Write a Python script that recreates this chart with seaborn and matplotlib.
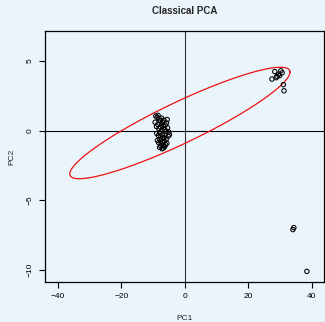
import numpy as np
import pandas as pd
import matplotlib
matplotlib.use("Agg")
import matplotlib.pyplot as plt
import seaborn as sns

# ---- data ----
pc1_main = [-9.2, -8.8, -8.5, -8.1, -7.8, -7.4, -7.0, -6.6, -6.2, -5.8,
            -9.0, -8.6, -8.2, -7.7, -7.3, -6.9, -6.4, -6.0, -5.5, -5.1,
            -8.9, -8.4, -8.0, -7.6, -7.1, -6.7, -6.3, -5.9, -5.3,
            -8.7, -8.3, -7.9, -7.5, -7.2, -6.8, -6.5, -6.1, -5.7,
            -8.0, -7.6, -7.2, -6.8, -6.4, -7.4, -6.9, -5.6, -9.4, -4.9]
pc2_main = [1.05, 0.95, 1.1, 0.85, 0.7, 0.9, 0.6, 0.75, 0.4, 0.55,
            0.3, 0.45, 0.15, 0.25, 0.05, 0.35, 0.1, -0.05, 0.2, -0.1,
            -0.2, -0.35, -0.15, -0.45, -0.3, -0.55, -0.25, -0.6, -0.4,
            -0.7, -0.85, -0.65, -0.95, -0.8, -1.05, -0.75, -1.0, -0.9,
            -1.2, -1.1, -1.3, -1.25, -1.15, 0.5, -0.5, 0.8, 0.6, -0.3]
pc1_out = [28.3, 30.2, 29.8, 28.7, 27.4, 29.5, 31.0, 31.2, 30.6, 29.0,
           34.0, 34.3, 38.4]
pc2_out = [4.24, 4.30, 3.95, 3.80, 3.70, 4.05, 3.30, 2.86, 4.15, 3.90,
           -7.10, -6.96, -10.10]

# ellipse parameters (data units)
ell_center = (-1.6, 0.55)
ell_A = 34.7
ell_B = 4.0
ell_delta = 0.42

title = "Classical PCA"
xlab, ylab = "PC1", "PC2"
xticks = [-40, -20, 0, 20, 40]
yticks = [5, 0, -5, -10]

df = pd.DataFrame({"PC1": pc1_main + pc1_out, "PC2": pc2_main + pc2_out})

bg = "#EAF4FB"
sns.set_theme(style="white")
plt.rcParams["font.family"] = ["Liberation Sans", "DejaVu Sans"]

fig = plt.figure(figsize=(3.25, 3.22), dpi=100, facecolor=bg)
ax = fig.add_axes([45 / 325, 1 - 282 / 322, 279 / 325, 251 / 322], facecolor=bg)

ax.axhline(0, color="black", lw=0.8, zorder=1)
ax.axvline(0, color="#333333", lw=0.8, zorder=1)

t = np.linspace(0, 2 * np.pi, 400)
ex = ell_center[0] + ell_A * np.cos(t)
ey = ell_center[1] + ell_B * np.cos(t - ell_delta)
ax.plot(ex, ey, color="#EE1111", lw=0.9, zorder=2)

sns.scatterplot(data=df, x="PC1", y="PC2", ax=ax, marker="o", s=10,
                facecolor="none", edgecolor="black", linewidth=0.75, zorder=3)

ax.set_xlim(-44.1, 43.8)
ax.set_ylim(-10.86, 7.15)
ax.set_xticks(xticks)
ax.set_xticklabels([str(v).replace("-", "\u2212") for v in xticks])
ax.set_yticks(yticks)
ax.set_yticklabels([str(v).replace("-", "\u2212") for v in yticks],
                   rotation=90, va="center")
ax.tick_params(axis="both", direction="out", length=4, width=0.8,
               colors="black", labelsize=6, pad=4,
               bottom=True, left=True)
for s in ax.spines.values():
    s.set_color("black")
    s.set_linewidth(0.9)

ax.set_xlabel(xlab, fontsize=6, labelpad=11)
ax.set_ylabel(ylab, fontsize=6, labelpad=8)
ax.set_title(title, fontsize=7, fontweight="bold", pad=12)

fig.savefig("out.png", dpi=100, facecolor=bg)
